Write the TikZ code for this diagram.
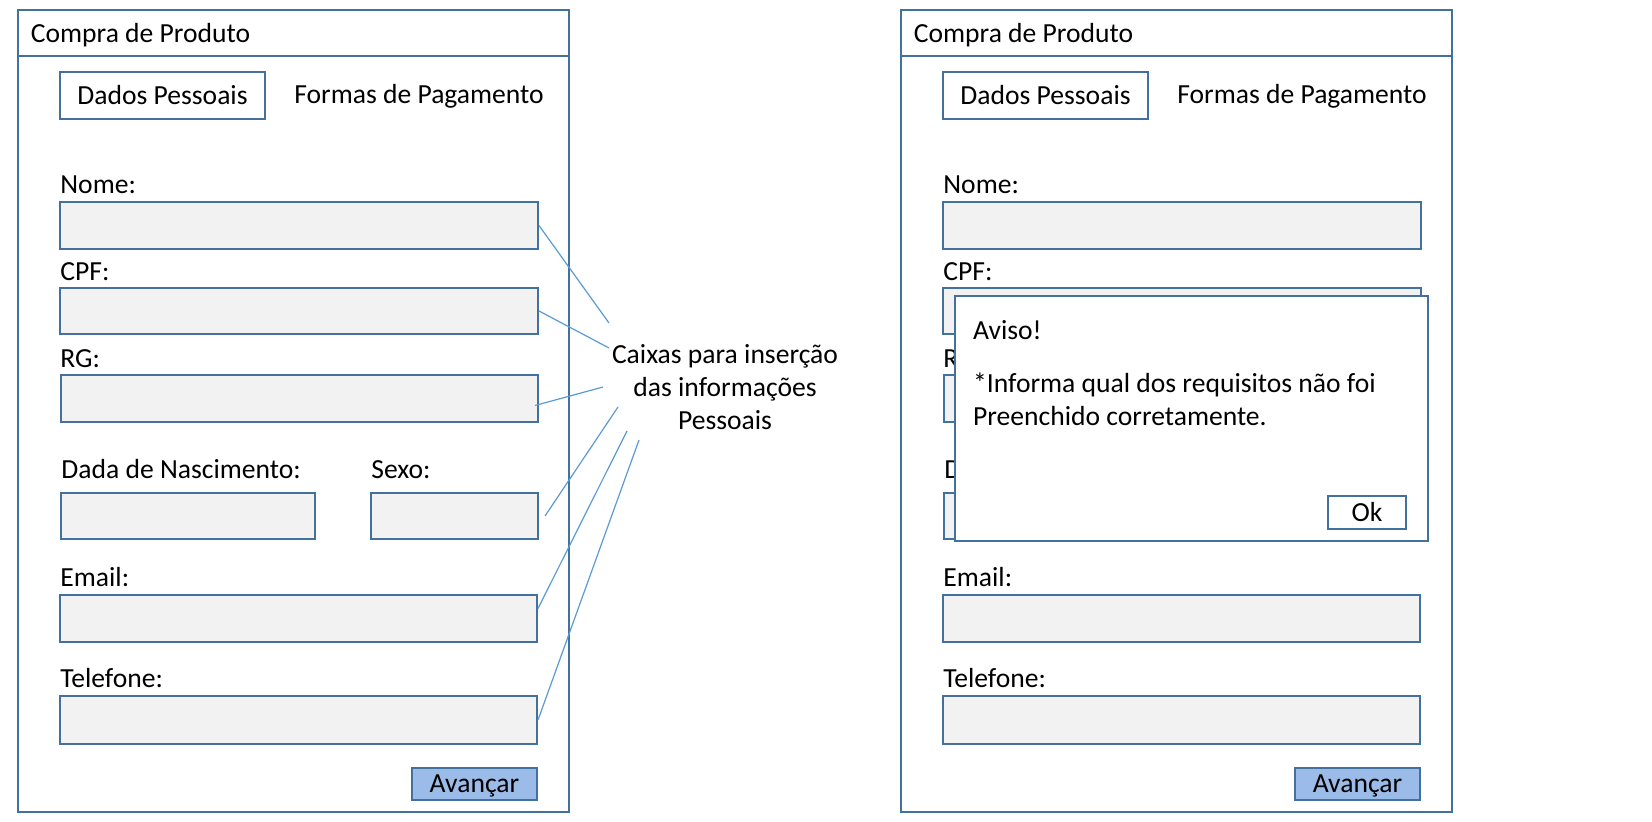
\documentclass[tikz,border=0pt]{standalone}
\usepackage{fontspec}
\setmainfont{Carlito}
\definecolor{frameblue}{HTML}{41719C}
\definecolor{fieldgray}{HTML}{F2F2F2}
\definecolor{btnblue}{HTML}{9BBBE8}
\definecolor{calloutblue}{HTML}{5B9BD5}
\tikzset{
  uiframe/.style={draw=frameblue, line width=1pt, fill=white, inner sep=0pt},
  field/.style={draw=frameblue, line width=1pt, fill=fieldgray, inner sep=0pt},
  ctext/.style={text height=9.9pt, text depth=1pt},
  tabbox/.style={draw=frameblue, line width=1pt, fill=white, inner sep=0pt, ctext},
  btn/.style={draw=frameblue, line width=1pt, fill=btnblue, inner sep=0pt, ctext},
  okbtn/.style={draw=frameblue, line width=1pt, fill=white, inner sep=0pt, ctext},
  lbl/.style={anchor=base west, inner sep=0pt},
  callout/.style={draw=calloutblue, line width=0.6pt},
  sz/.style 2 args={minimum width=0.5pt*#1, minimum height=0.5pt*#2},
}
\newcommand{\formpic}[2]{%
\begin{scope}[xshift=0.5pt*#2]
  \node[uiframe, sz={551}{801.5}] (#1frame) at (293.5,411.25) {};
  \node[uiframe, sz={551}{45.5}] (#1title) at (293.5,33.25) {};
  \node[lbl] (#1titletext) at (30.5,43) {Compra de Produto};
  \node[tabbox, sz={205}{47}] (#1dados) at (162.5,95.5) {Dados Pessoais};
  \node[anchor=base, inner sep=0pt] (#1formas) at (419,104) {Formas de Pagamento};
  \node[lbl] (#1nomel) at (60,194) {Nome:};
  \node[field, sz={478}{47}] (#1nome) at (299,225.5) {};
  \node[lbl] (#1cpfl) at (60,281) {CPF:};
  \node[field, sz={478}{46}] (#1cpf) at (299,311) {};
  \node[lbl] (#1rgl) at (60,368) {RG:};
  \node[field, sz={477}{47}] (#1rg) at (299.5,398.5) {};
  \node[lbl] (#1dnl) at (61,479) {Dada de Nascimento:};
  \node[lbl] (#1sexol) at (371,479) {Sexo:};
  \node[field, sz={254}{46}] (#1dn) at (188,516) {};
  \node[field, sz={167}{46}] (#1sexo) at (454.5,516) {};
  \node[lbl] (#1emaill) at (60,586) {Email:};
  \node[field, sz={477}{47}] (#1email) at (298.5,618.5) {};
  \node[lbl] (#1tell) at (60,687.5) {Telefone:};
  \node[field, sz={477}{48}] (#1tel) at (298.5,720) {};
  \node[btn, sz={125}{32}] (#1avancar) at (474.5,784) {Avançar};
\end{scope}}
\begin{document}
\begin{tikzpicture}[x=0.5pt, y=-0.5pt, font=\fontsize{13.8}{16.6}\selectfont]
\useasboundingbox (0,0) rectangle (1652,822);
\fill[white] (0,0) rectangle (1652,822);

\formpic{L}{0}
\formpic{R}{883}

% callout on the left form
\node[align=center, inner sep=0pt, font=\fontsize{13.8}{16.6}\selectfont] (note) at (725,387)
  {Caixas para inserção\\das informações\\Pessoais};
\coordinate (c1) at (609,323);
\coordinate (c2) at (609,348);
\coordinate (c3) at (603,387);
\coordinate (c4) at (618,407);
\coordinate (c5) at (627,431);
\coordinate (c6) at (639,440);
\draw[callout] (Lnome.east) -- (c1);
\draw[callout] (Lcpf.east) -- (c2);
\draw[callout] ([xshift=-2pt,yshift=-3.5pt]Lrg.east) -- (c3);
\draw[callout] ([xshift=3pt]Lsexo.east) -- (c4);
\draw[callout] ([yshift=5pt]Lemail.east) -- (c5);
\draw[callout] (Ltel.east) -- (c6);

% warning dialog on the right form
\node[uiframe, sz={473}{244.5}] (dialog) at (1191,418.3) {};
\node[lbl] (aviso) at (972.7,340) {Aviso!};
\node[lbl] (msg1) at (972.7,392.5) {*Informa qual dos requisitos não foi};
\node[lbl] (msg2) at (972.7,425.3) {Preenchido corretamente.};
\node[okbtn, sz={78.6}{33}] (ok) at (1367,513) {Ok};
\end{tikzpicture}
\end{document}
